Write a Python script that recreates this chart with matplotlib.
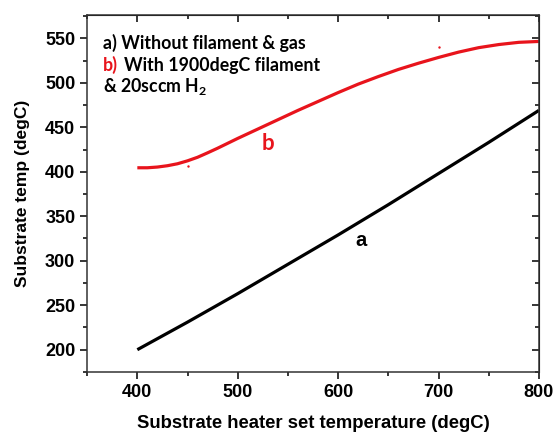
import matplotlib.pyplot as plt
from matplotlib.ticker import MultipleLocator

plt.rcParams['mathtext.fontset'] = 'custom'
plt.rcParams['mathtext.rm'] = 'Lato:bold'
plt.rcParams['mathtext.bf'] = 'Lato:bold'

# set temperature (degC)
set_temp = [400, 450, 500, 550, 600, 650, 700, 750, 800]
# a) without filament & gas
temp_a = [200, 231, 263, 296, 329, 363, 398, 433, 469]
# b) with 1900degC filament & 20sccm H2
set_temp_b = [400, 410, 420, 430, 440, 450, 460, 470, 480, 490, 500, 520, 540, 560,
              580, 600, 620, 640, 660, 680, 700, 720, 740, 760, 780, 800]
temp_b = [404.5, 404.5, 405.3, 406.8, 409, 412.3, 416.3, 421.3, 426.5, 432, 437.5,
          448, 458.5, 469, 479, 489, 498.5, 507, 515, 522, 528.5,
          534.5, 539.5, 543, 545.5, 546.5]
# stray red dots
dots_x = [450, 700]
dots_y = [406.5, 540]

red = '#e8141c'

fig = plt.figure(figsize=(5.55, 4.34), dpi=100)
ax = fig.add_axes([0.157, 0.143, 0.814, 0.822])

ax.plot(set_temp, temp_a, color='black', lw=2.3, solid_capstyle='butt')
ax.plot(set_temp_b, temp_b, color=red, lw=2.3, solid_capstyle='butt',
        solid_joinstyle='round')
ax.scatter(dots_x, dots_y, s=3, color=red, lw=0)

ax.set_xlim(350, 800)
ax.set_ylim(175, 576)
ax.xaxis.set_minor_locator(MultipleLocator(50))
ax.yaxis.set_minor_locator(MultipleLocator(25))
ax.set_xticks([400, 500, 600, 700, 800])
ax.set_yticks([200, 250, 300, 350, 400, 450, 500, 550])

ax.tick_params(which='major', direction='out', length=5, width=1.1)
ax.tick_params(which='minor', direction='out', length=3, width=1.1)
for lab in ax.get_xticklabels() + ax.get_yticklabels():
    lab.set_fontfamily('Liberation Sans')
    lab.set_fontweight('bold')
    lab.set_fontsize(13)

# mirrored inward ticks on top and right
top = ax.secondary_xaxis('top')
top.set_xticks([400, 500, 600, 700, 800])
top.xaxis.set_minor_locator(MultipleLocator(50))
top.tick_params(which='both', direction='in', labeltop=False)
top.tick_params(which='major', length=5, width=1.1)
top.tick_params(which='minor', length=3, width=1.1)
right = ax.secondary_yaxis('right')
right.set_yticks([200, 250, 300, 350, 400, 450, 500, 550])
right.yaxis.set_minor_locator(MultipleLocator(25))
right.tick_params(which='both', direction='in', labelright=False)
right.tick_params(which='major', length=5, width=1.1)
right.tick_params(which='minor', length=3, width=1.1)

for s in ax.spines.values():
    s.set_linewidth(1.1)
    s.set_color('#333333')

ax.set_xlabel('Substrate heater set temperature (degC)', fontfamily='Liberation Sans',
              fontweight='bold', fontsize=13.3)
ax.set_ylabel('Substrate temp (degC)', fontfamily='Liberation Sans',
              fontweight='bold', fontsize=12.5)
ax.xaxis.set_label_coords(0.5, -0.145)
ax.xaxis.label.set_va('center')
ax.yaxis.set_label_coords(-0.144, 0.5)
ax.yaxis.label.set_va('center')

tk = dict(fontfamily='Lato', fontweight='bold', fontsize=12.8, va='center',
          transform=ax.transAxes)
ax.text(0.035, 0.922, 'a) Without filament & gas', color='black', **tk)
ax.text(0.035, 0.860, 'b)', color=red, **tk)
ax.text(0.081, 0.860, 'With 1900degC filament', color='black', **tk)
ax.text(0.035, 0.799, r'& 20sccm H$_2$', color='black', **tk)

ax.text(530, 432, 'b', color=red, fontfamily='Lato', fontweight='bold',
        fontsize=16, ha='center', va='center')
ax.text(623, 323, 'a', color='black', fontfamily='Liberation Sans', fontweight='bold',
        fontsize=14.5, ha='center', va='center')

fig.savefig('out.png', dpi=100)
